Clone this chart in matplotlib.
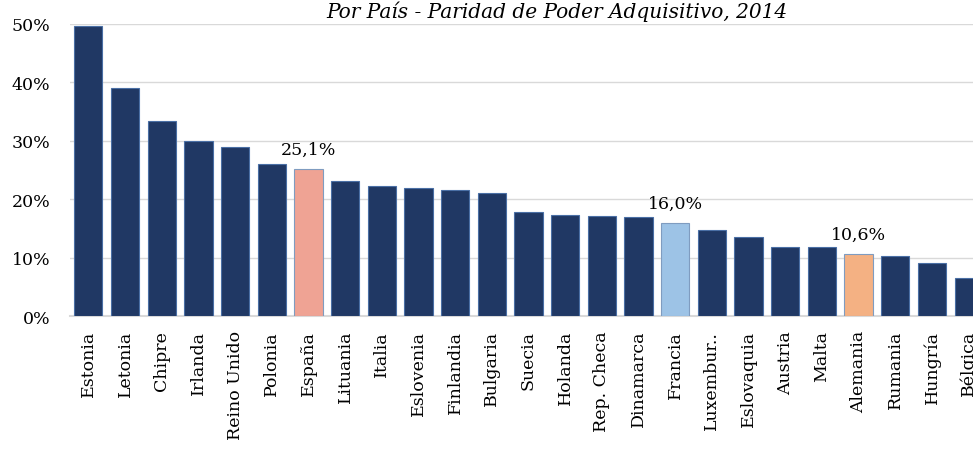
import matplotlib.pyplot as plt
import numpy as np

paises = ['Estonia', 'Letonia', 'Chipre', 'Irlanda', 'Reino Unido', 'Polonia',
          'España', 'Lituania', 'Italia', 'Eslovenia', 'Finlandia', 'Bulgaria',
          'Suecia', 'Holanda', 'Rep. Checa', 'Dinamarca', 'Francia', 'Luxembur..',
          'Eslovaquia', 'Austria', 'Malta', 'Alemania', 'Rumania', 'Hungría', 'Bélgica']
valores = [49.7, 39.0, 33.4, 30.0, 28.9, 26.0,
           25.1, 23.1, 22.3, 21.9, 21.6, 21.1,
           17.8, 17.3, 17.1, 16.9, 16.0, 14.8,
           13.6, 11.9, 11.8, 10.6, 10.3, 9.1, 6.5]
destacados = {'España': '#EFA394', 'Francia': '#9DC3E6', 'Alemania': '#F4B183'}
etiquetas = {'España': '25,1%', 'Francia': '16,0%', 'Alemania': '10,6%'}

plt.rcParams['font.family'] = ['DejaVu Serif']

fig = plt.figure(figsize=(9.73, 4.52), dpi=100)
# axes runs past the right edge, as in the cropped original
ax = fig.add_axes([70 / 973, 1 - 317 / 452, 917 / 973, 292 / 452])

x = np.arange(len(paises))
colores = [destacados.get(p, '#203864') for p in paises]
bordes = ['#4A6FA5' if p not in destacados else '#7F9CC0' for p in paises]
ax.bar(x, valores, width=0.77, color=colores, edgecolor=bordes, linewidth=0.8, zorder=3)

for i, p in enumerate(paises):
    if p in etiquetas:
        ax.annotate(etiquetas[p], (i, valores[i]), xytext=(0, 8), textcoords='offset points',
                    ha='center', va='bottom', fontsize=12.5)

ax.set_xlim(-0.5, len(paises) - 0.5)
ax.set_ylim(0, 50)
ax.set_yticks(np.arange(0, 51, 10))
ax.set_yticklabels([f'{v}%' for v in range(0, 51, 10)], fontsize=12.5)
ax.set_xticks(x)
ax.set_xticklabels(paises, rotation=90, fontsize=12.5)
ax.tick_params(length=0, pad=10)
ax.tick_params(axis='y', pad=14)
ax.grid(axis='y', color='#D9D9D9', linewidth=1, zorder=0)
for s in ['top', 'right', 'left']:
    ax.spines[s].set_visible(False)
ax.spines['bottom'].set_color('#D9D9D9')
ax.spines['bottom'].set_linewidth(1.5)

fig.text(557 / 973, 1 - 12 / 452, 'Por País - Paridad de Poder Adquisitivo, 2014',
         ha='center', va='center', fontsize=14.5, style='italic')

fig.savefig('out.png', dpi=100)
